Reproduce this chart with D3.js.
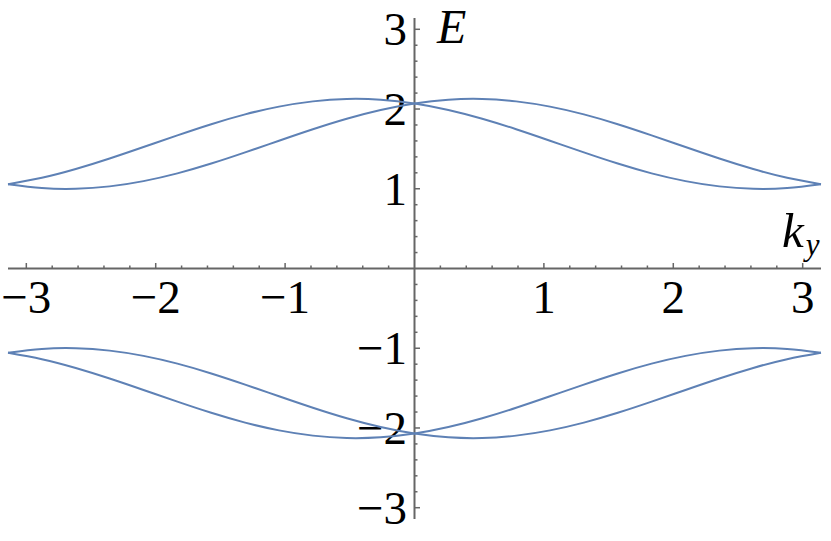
<!DOCTYPE html>
<html>
<head>
<meta charset="utf-8">
<script src="https://cdn.jsdelivr.net/npm/d3@7"></script>
<style>
  body { margin: 0; background: #fff; }
</style>
</head>
<body>
<script>
// size of the picture
var width = 831,
	height = 541;

var pi = Math.PI;
var serif = 'Liberation Serif';

// k_y samples, every 15 degrees from -pi to pi
var ky = [-180, -165, -150, -135, -120, -105, -90, -75, -60, -45, -30, -15, 0,
	15, 30, 45, 60, 75, 90, 105, 120, 135, 150, 165, 180];

// upper band
var bandA = [1.056, 1.009, 1.000, 1.030, 1.096, 1.193, 1.316, 1.456, 1.603, 1.747, 1.879, 1.989, 2.070,
	2.117, 2.126, 2.096, 2.030, 1.933, 1.810, 1.670, 1.523, 1.379, 1.247, 1.137, 1.056];
var bandB = [1.056, 1.137, 1.247, 1.379, 1.523, 1.670, 1.810, 1.933, 2.030, 2.096, 2.126, 2.117, 2.070,
	1.989, 1.879, 1.747, 1.603, 1.456, 1.316, 1.193, 1.096, 1.030, 1.000, 1.009, 1.056];
// lower band
var bandC = [-1.056, -1.009, -1.000, -1.030, -1.096, -1.193, -1.316, -1.456, -1.603, -1.747, -1.879, -1.989, -2.070,
	-2.117, -2.126, -2.096, -2.030, -1.933, -1.810, -1.670, -1.523, -1.379, -1.247, -1.137, -1.056];
var bandD = [-1.056, -1.137, -1.247, -1.379, -1.523, -1.670, -1.810, -1.933, -2.030, -2.096, -2.126, -2.117, -2.070,
	-1.989, -1.879, -1.747, -1.603, -1.456, -1.316, -1.193, -1.096, -1.030, -1.000, -1.009, -1.056];

var xTicks = [-3, -2, -1, 1, 2, 3];
var yTicks = [-3, -2, -1, 1, 2, 3];

// scales, the plot range is -pi..pi on both axes
var x = d3.scaleLinear().domain([-pi, pi]).range([8, 821]);
var y = d3.scaleLinear().domain([-pi, pi]).range([519, 18]);

var svg = d3.select('body')
	.append('svg')
	.attr('width', width)
	.attr('height', height)
	.style('font-family', serif);

// minor ticks every 0.2
var minor = d3.range(-15, 16).map(function(i) { return i / 5; })
	.filter(function(v) { return Math.abs(v) > 1e-9 && Math.abs(v) <= pi && Math.abs(v - Math.round(v)) > 1e-9; });

var axisColor = '#666';
var fontSize = 47;

function fmt(d) { return d < 0 ? '\u2212' + (-d) : String(d); }

// horizontal axis
svg.append('line')
	.attr('x1', x(-pi)).attr('x2', x(pi))
	.attr('y1', y(0)).attr('y2', y(0))
	.attr('stroke', axisColor).attr('stroke-width', 2);

svg.selectAll('.xminor').data(minor).enter().append('line')
	.attr('x1', x).attr('x2', x)
	.attr('y1', y(0)).attr('y2', y(0) - 3)
	.attr('stroke', axisColor).attr('stroke-width', 1.5);

svg.selectAll('.xmajor').data(xTicks).enter().append('line')
	.attr('x1', x).attr('x2', x)
	.attr('y1', y(0)).attr('y2', y(0) - 5.5)
	.attr('stroke', axisColor).attr('stroke-width', 1.5);

// whole label centred under its tick
svg.selectAll('.xlabel').data(xTicks).enter().append('text')
	.attr('x', function(d) { return x(d); })
	.attr('y', 313)
	.attr('text-anchor', 'middle')
	.style('font-family', serif)
	.attr('font-size', fontSize)
	.text(fmt);

// vertical axis
svg.append('line')
	.attr('x1', x(0)).attr('x2', x(0))
	.attr('y1', y(pi)).attr('y2', y(-pi))
	.attr('stroke', axisColor).attr('stroke-width', 2);

svg.selectAll('.yminor').data(minor).enter().append('line')
	.attr('x1', x(0)).attr('x2', x(0) + 3)
	.attr('y1', y).attr('y2', y)
	.attr('stroke', axisColor).attr('stroke-width', 1.5);

svg.selectAll('.ymajor').data(yTicks).enter().append('line')
	.attr('x1', x(0)).attr('x2', x(0) + 5.5)
	.attr('y1', y).attr('y2', y)
	.attr('stroke', axisColor).attr('stroke-width', 1.5);

svg.selectAll('.ylabel').data(yTicks).enter().append('text')
	.attr('x', 407)
	.attr('y', function(d) { return y(d) + 16; })
	.attr('text-anchor', 'end')
	.style('font-family', serif)
	.attr('font-size', fontSize)
	.text(fmt);

// axis labels
svg.append('text')
	.attr('x', 437).attr('y', 43)
	.style('font-family', serif)
	.attr('font-size', 48)
	.attr('font-style', 'italic')
	.text('E');

var kl = svg.append('text')
	.attr('x', 782).attr('y', 247)
	.style('font-family', serif)
	.attr('font-size', 49)
	.attr('font-style', 'italic');
kl.append('tspan').text('k');
kl.append('tspan').attr('font-size', 31).attr('dx', 2).attr('dy', 8).text('y');

// the four bands
var line = d3.line()
	.x(function(d) { return x(d[0] * pi / 180); })
	.y(function(d) { return y(d[1]); })
	.curve(d3.curveNatural);

[bandA, bandB, bandC, bandD].forEach(function(band) {
	svg.append('path')
		.datum(d3.zip(ky, band))
		.attr('d', line)
		.attr('fill', 'none')
		.attr('stroke', '#5e81b5')
		.attr('stroke-width', 2);
});
</script>
</body>
</html>
